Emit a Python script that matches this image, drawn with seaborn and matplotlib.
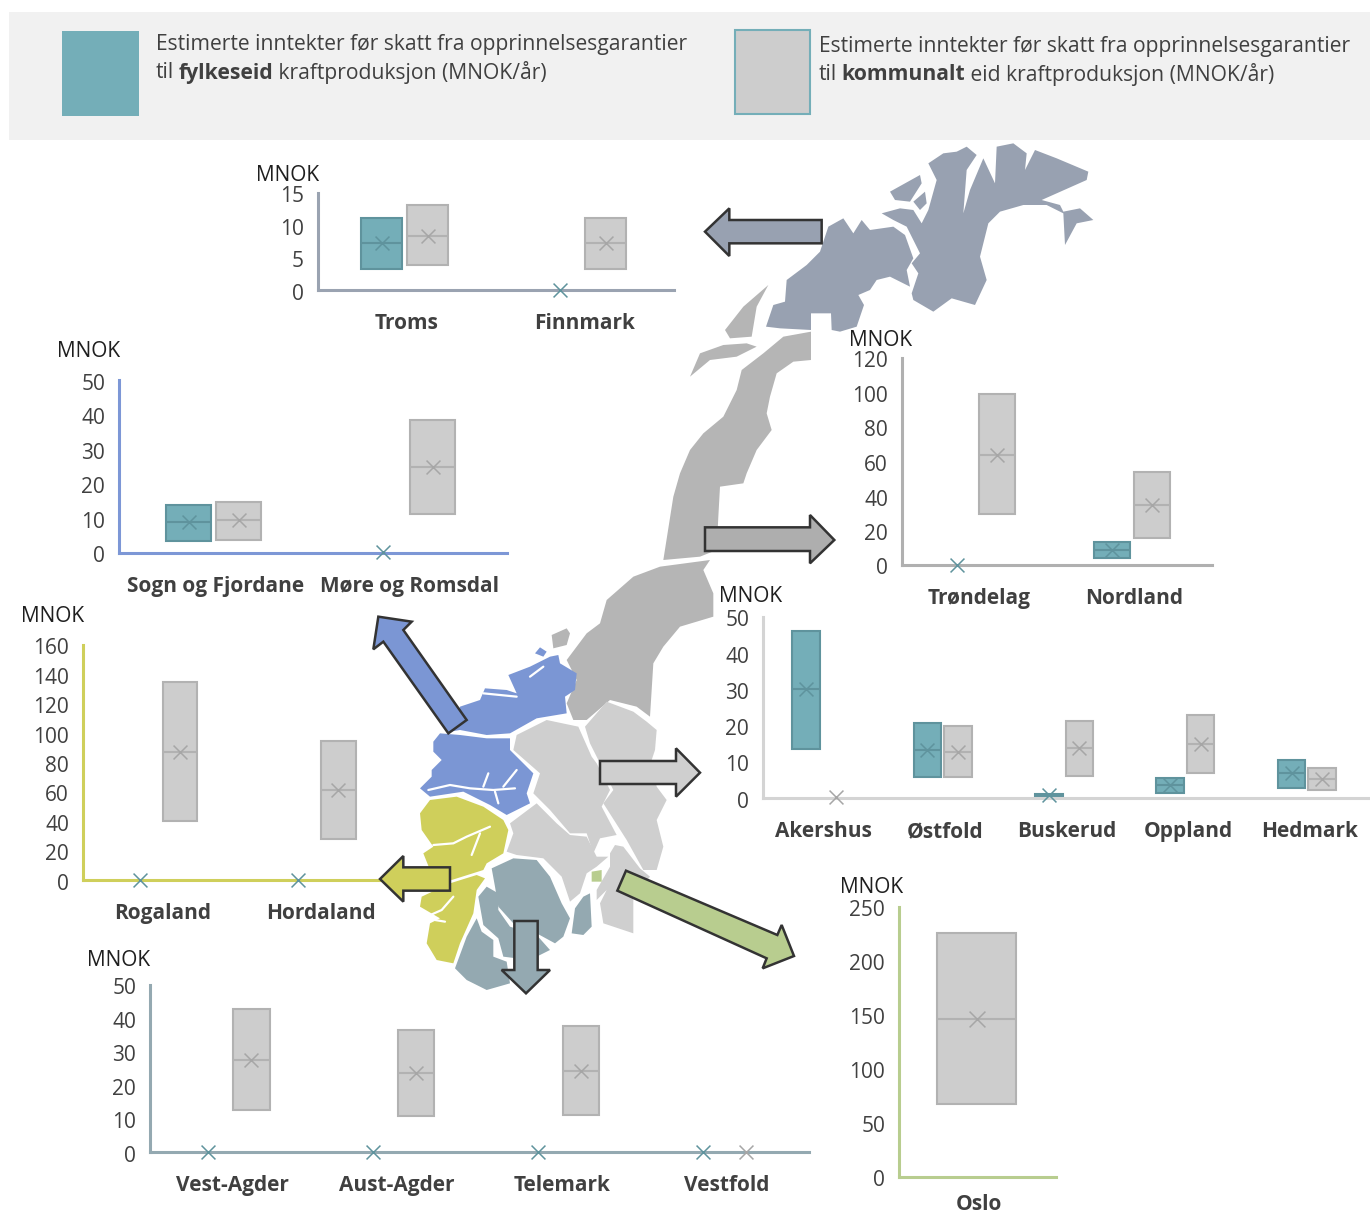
import numpy as np
import pandas as pd
import seaborn as sns
import matplotlib
matplotlib.use("Agg")
import matplotlib.pyplot as plt
from matplotlib.patches import Polygon, Rectangle
from matplotlib.transforms import ScaledTranslation

sns.set_theme(style="white")
plt.rcParams['font.family'] = ['Open Sans', 'DejaVu Sans']

W, H = 1370, 1216
TEAL, GREY = "#74aeb8", "#cdcdcd"
TEAL_LINE, GREY_LINE = "#5f939d", "#b2b2b2"
SERIES = ["fylkeseid", "kommunalt"]
TXT = "#404040"
N = np.nan

# ---------- data: (low, median, high, mean) per category ----------
troms_cats = ["Troms", "Finnmark"]
troms_f_low, troms_f_med, troms_f_high, troms_f_mean = [3.2, N], [7.3, N], [11.1, N], [7.3, 0.0]
troms_k_low, troms_k_med, troms_k_high, troms_k_mean = [3.9, 3.2], [8.3, 7.3], [13.1, 11.1], [8.3, 7.3]
troms_ticks = [0, 5, 10, 15]

sogn_cats = ["Sogn og Fjordane", "Møre og Romsdal"]
sogn_f_low, sogn_f_med, sogn_f_high, sogn_f_mean = [3.5, N], [9.0, N], [13.9, N], [9.0, 0.4]
sogn_k_low, sogn_k_med, sogn_k_high, sogn_k_mean = [3.8, 11.3], [9.5, 24.9], [14.7, 38.4], [9.5, 24.9]
sogn_ticks = [0, 10, 20, 30, 40, 50]

trond_cats = ["Trøndelag", "Nordland"]
trond_f_low, trond_f_med, trond_f_high, trond_f_mean = [N, 4.0], [N, 8.7], [N, 13.3], [0.0, 8.7]
trond_k_low, trond_k_med, trond_k_high, trond_k_mean = [29.6, 15.7], [64.0, 34.8], [99.0, 54.0], [64.0, 34.8]
trond_ticks = [0, 20, 40, 60, 80, 100, 120]

east_cats = ["Akershus", "Østfold", "Buskerud", "Oppland", "Hedmark"]
east_f_low, east_f_med, east_f_high, east_f_mean = [13.5, 5.8, 0.1, 1.5, 2.8], [30.0, 13.3, 0.6, 3.5, 6.9], [46.0, 20.7, 1.1, 5.5, 10.4], [30.0, 13.3, 0.9, 3.5, 6.9]
east_k_low, east_k_med, east_k_high, east_k_mean = [N, 5.8, 6.0, 6.9, 2.2], [N, 12.8, 13.8, 15.0, 5.3], [N, 19.9, 21.2, 23.0, 8.3], [0.3, 12.8, 13.8, 15.0, 5.3]
east_ticks = [0, 10, 20, 30, 40, 50]

west_cats = ["Rogaland", "Hordaland"]
west_f_low, west_f_med, west_f_high, west_f_mean = [N, N], [N, N], [N, N], [0.0, 0.0]
west_k_low, west_k_med, west_k_high, west_k_mean = [40.0, 28.0], [87.0, 61.2], [134.7, 94.6], [87.0, 61.2]
west_ticks = [0, 20, 40, 60, 80, 100, 120, 140, 160]

south_cats = ["Vest-Agder", "Aust-Agder", "Telemark", "Vestfold"]
south_f_low, south_f_med, south_f_high, south_f_mean = [N, N, N, N], [N, N, N, N], [N, N, N, N], [0.0, 0.0, 0.0, 0.0]
south_k_low, south_k_med, south_k_high, south_k_mean = [12.6, 10.8, 11.0, N], [27.5, 23.7, 24.3, N], [42.8, 36.5, 37.7, N], [27.5, 23.7, 24.3, 0.0]
south_ticks = [0, 10, 20, 30, 40, 50]

oslo_cats = ["Oslo"]
oslo_k_low, oslo_k_med, oslo_k_high, oslo_k_mean = [67.6], [146.0], [226.0], [146.0]
oslo_ticks = [0, 50, 100, 150, 200, 250]

fig = plt.figure(figsize=(W / 100, H / 100), dpi=100, facecolor="white")


def overlay(z):
    a = fig.add_axes([0, 0, 1, 1], zorder=z)
    a.set_xlim(0, W)
    a.set_ylim(H, 0)
    a.axis("off")
    a.patch.set_alpha(0)
    return a


back = overlay(0)
front = overlay(5)


def tidy(cats, low, med, high, name):
    rows = []
    for c, l, m, h in zip(cats, low, med, high):
        # five points: the quartiles of this list are exactly low / median / high
        for v in (l, l, m, h, h):
            rows.append((c, name, v))
    return rows


def panel(cats, f, k, ticks, x0, x1, y0, yt, color, sep, boxw, mnok, shift_px=2.5, xpad=16.5):
    ax = fig.add_axes([x0 / W, 1 - y0 / H, (x1 - x0) / W, (y0 - yt) / H], zorder=2)
    ax.patch.set_alpha(0)
    catw = (x1 - x0) / len(cats) if len(cats) > 1 else 158.0
    rows = tidy(cats, *k[:3], SERIES[1])
    if f is not None:
        rows += tidy(cats, *f[:3], SERIES[0])
    df = pd.DataFrame(rows, columns=["cat", "serie", "val"]).dropna()
    opts = dict(data=df, x="cat", y="val", hue="serie", order=cats, hue_order=SERIES,
                palette=[TEAL, GREY], whis=(0, 100), showcaps=False, showfliers=False,
                saturation=1, linewidth=1.5, legend=False, ax=ax)
    boxw = boxw - 1.5
    if f is not None:
        sns.boxplot(width=2 * sep / catw, gap=1 - boxw / sep, dodge=True, **opts)
    else:
        sns.boxplot(width=boxw / catw, dodge=False, **opts)
    for cont in ax.containers:
        is_teal = matplotlib.colors.to_hex(cont.boxes[0].get_facecolor()) == TEAL
        lc = TEAL_LINE if is_teal else GREY_LINE
        for b in cont.boxes:
            b.set_edgecolor(lc)
        for ln in list(cont.medians) + list(cont.whiskers):
            ln.set_color(lc)
    idx = np.arange(len(cats), dtype=float)
    if f is not None:
        sns.scatterplot(x=idx - sep / 2 / catw, y=f[3], marker="x", s=100, color=TEAL_LINE,
                        linewidth=1.1, clip_on=False, legend=False, ax=ax, zorder=6)
        sns.scatterplot(x=idx + sep / 2 / catw, y=k[3], marker="x", s=100, color="#a6a6a6",
                        linewidth=1.1, clip_on=False, legend=False, ax=ax, zorder=6)
    else:
        sns.scatterplot(x=idx, y=k[3], marker="x", s=130, color="#a6a6a6",
                        linewidth=1.1, clip_on=False, legend=False, ax=ax, zorder=6)
    s = shift_px / catw
    if len(cats) > 1:
        ax.set_xlim(-0.5 + s, len(cats) - 0.5 + s)
    else:
        ax.set_xlim(-(80 / catw) + s, ((x1 - x0) - 80) / catw + s)
    ax.set_ylim(0, ticks[-1])
    ax.set_xticks(idx + s)
    ax.set_xticklabels(cats, fontsize=15, fontweight="bold", color=TXT)
    ax.set_yticks(ticks)
    ax.set_yticklabels([str(t) for t in ticks], fontsize=15, color=TXT)
    ax.tick_params(axis="x", length=0, pad=xpad)
    ax.tick_params(axis="y", length=0, pad=10)
    down = ScaledTranslation(0, -1.5 / 100, fig.dpi_scale_trans)
    for lab in ax.get_yticklabels():
        lab.set_transform(lab.get_transform() + down)
    ax.set_xlabel("")
    ax.set_ylabel("")
    for sp in ("top", "right"):
        ax.spines[sp].set_visible(False)
    for sp in ("left", "bottom"):
        ax.spines[sp].set_color(color)
        ax.spines[sp].set_linewidth(2.2)
    front.text(mnok[0], mnok[1] + 2.5, "MNOK", fontsize=15, color="#1f1f1f", ha="center", va="center")
    return ax


# ---------- map outline, traced as decoration ----------
def z1(pts):
    return [(680 + x / 3, 130 + y / 3) for x, y in pts]


def z2(pts):
    return [(370 + x / 3, 560 + y / 3) for x, y in pts]


NORTH, NORD, BLUE, YEL, SLATE, LIGHT, GREEN = "#98a1b1", "#b5b5b5", "#7b96d4", "#cfcf5b", "#94a9b1", "#cfcfcf", "#b8cd8f"
shapes = [
    (NORTH, z1([(258,590),(280,525),(315,515),(320,450),(380,405),(420,365),(445,290),(490,265),(520,310),(545,270),(570,300),(640,290),(675,315),(700,385),(680,420),(690,470),(630,440),(590,450),(570,480),(535,495),(552,525),(530,590),(480,605),(455,600),(453,550),(393,550),(393,600),(300,595)])),
    (NORTH, z1([(605,250),(660,235),(700,240),(725,280),(745,240),(770,150),(745,100),(790,70),(830,65),(860,50),(890,75),(860,120),(850,250),(870,180),(910,85),(945,160),(950,50),(1000,40),(1040,70),(1035,120),(1065,60),(1130,85),(1225,125),(1220,150),(1130,190),(1085,210),(1140,225),(1150,245),(1200,235),(1240,270),(1190,280),(1155,345),(1150,250),(1100,225),(1030,225),(960,245),(925,280),(900,380),(920,450),(885,525),(815,505),(760,545),(700,510),(695,490),(715,430),(695,400),(720,370),(680,290),(640,270)])),
    (NORTH, z1([(630,185),(720,135),(725,160),(690,215),(645,210)])),
    (NORTH, z1([(700,215),(735,185),(740,220),(720,240)])),
    (NORD, z1([(135,600),(190,530),(265,465),(230,530),(215,620),(150,625)])),
    (NORD, z1([(30,740),(60,670),(130,645),(200,640),(230,650),(170,680),(90,690)])),
    (NORD, z1([(170,780),(185,720),(250,670),(310,620),(393,605),(393,690),(340,695),(290,730),(270,800),(260,850),(275,900),(230,960),(200,1030),(190,1060),(120,1070),(115,1160),(110,1260),(60,1280),(-50,1290),(-20,1100),(0,1030),(30,960),(70,910),(130,860),(160,800)])),
    (NORD, z2([(590,300),(620,260),(650,220),(690,190),(710,120),(790,50),(870,20),(1020,0),(1000,30),(1030,100),(1030,170),(930,200),(880,260),(850,310),(840,470),(800,440),(720,420),(650,480),(610,480),(590,430),(620,360)])),
    (NORD, z2([(545,225),(590,205),(600,220),(590,255),(550,265)])),
    (BLUE, z2([(240,515),(270,440),(330,420),(345,385),(410,390),(440,400),(415,345),(480,320),(540,290),(565,285),(570,310),(620,340),(615,390),(585,410),(590,460),(500,475),(420,520),(350,525),(270,510)])),
    (BLUE, z2([(495,280),(510,262),(530,275),(520,290)])),
    (BLUE, z2([(190,545),(210,520),(270,525),(350,535),(420,535),(420,570),(490,640),(470,700),(480,730),(410,765),(360,735),(280,695),(180,710),(150,685),(185,650),(185,630),(215,600),(190,575)])),
    (YEL, z2([(150,760),(180,720),(260,710),(340,740),(400,780),(415,810),(400,880),(350,910),(340,930),(245,960),(180,930),(160,880),(190,860),(155,810)])),
    (YEL, z2([(240,970),(320,945),(345,955),(320,990),(310,1060),(270,1150),(250,1210),(200,1200),(170,1150),(180,1090),(210,1075),(150,1040),(155,1010)])),
    (SLATE, z2([(365,925),(430,895),(500,900),(540,950),(575,1030),(600,1075),(580,1130),(555,1150),(500,1120),(430,1090),(385,1040),(375,980)])),
    (SLATE, z2([(325,1010),(350,980),(385,1000),(385,1050),(420,1100),(500,1125),(540,1170),(480,1200),(400,1190),(385,1135),(340,1095)])),
    (SLATE, z2([(320,1075),(335,1115),(370,1140),(370,1190),(410,1205),(420,1270),(350,1290),(290,1260),(255,1225),(290,1130)])),
    (SLATE, z2([(640,1010),(660,1000),(665,1100),(640,1125),(605,1120),(615,1045)])),
    (LIGHT, z2([(420,790),(500,730),(560,790),(600,825),(650,830),(680,890),(715,890),(680,920),(650,940),(630,1000),(600,1025),(575,950),(520,895),(440,885),(410,875),(430,820)])),
    (LIGHT, z2([(440,525),(530,480),(625,500),(665,590),(680,610),(720,690),(695,740),(740,825),(690,835),(670,880),(650,820),(600,820),(540,750),(490,700),(510,640),(430,570)])),
    (LIGHT, z2([(645,500),(710,425),(790,455),(830,485),(860,510),(855,570),(845,600),(860,680),(890,720),(860,780),(880,860),(860,930),(820,930),(770,840),(700,730),(730,690),(680,590),(660,550)])),
    (LIGHT, z2([(720,880),(735,855),(760,860),(810,925),(840,950),(790,1010),(790,1120),(700,1090),(690,1030),(710,990),(680,1020),(680,990),(720,920)])),
    (GREEN, z2([(665,935),(695,930),(695,965),(665,965)])),
]
for col, pts in shapes:
    back.add_patch(Polygon(pts, closed=True, facecolor=col, edgecolor="none"))

# fjords: thin white cuts in the western counties
fjords = [
    z2([(175,690),(240,675),(300,685),(370,690),(435,685)]),
    z2([(340,680),(355,640)]), z2([(400,680),(440,630)]), z2([(375,695),(385,730)]),
    z2([(190,855),(250,850),(290,830),(360,800)]), z2([(305,885),(330,820)]),
    z2([(170,1070),(215,1050),(250,1010)]), z2([(195,1080),(225,1085)]),
    z2([(480,350),(520,320)]), z2([(340,400),(440,410)]),
]
for pts in fjords:
    xs, ys = zip(*pts)
    back.plot(xs, ys, color="white", lw=1.6, solid_capstyle="round")

arrows = [
    (NORTH, z1([(425,270),(148,270),(148,235),(75,305),(148,378),(148,340),(425,340)])),
    ("#aeaeae", z1([(75,1192),(390,1192),(390,1155),(463,1230),(390,1300),(390,1263),(75,1263)])),
    (BLUE, z2([(290,480),(100,210),(125,185),(25,170),(10,268),(40,245),(235,520)])),
    (LIGHT, z2([(690,603),(918,603),(918,565),(990,638),(918,710),(918,672),(690,672)])),
    (YEL, z2([(240,922),(100,922),(100,888),(30,957),(100,1025),(100,992),(240,992)])),
    (SLATE, z2([(433,1083),(503,1083),(503,1230),(540,1230),(468,1300),(395,1230),(433,1230)])),
    (GREEN, z2([(768,932),(1222,1125),(1235,1095),(1272,1188),(1178,1225),(1190,1195),(742,992)])),
]
for col, pts in arrows:
    front.add_patch(Polygon(pts, closed=True, facecolor=col, edgecolor="#333333", linewidth=1.8, joinstyle="miter"))

# ---------- panels ----------
panel(troms_cats, (troms_f_low, troms_f_med, troms_f_high, troms_f_mean),
      (troms_k_low, troms_k_med, troms_k_high, troms_k_mean), troms_ticks,
      318, 674, 290, 193, "#9aa3b1", 46, 42, (288, 173))
panel(sogn_cats, (sogn_f_low, sogn_f_med, sogn_f_high, sogn_f_mean),
      (sogn_k_low, sogn_k_med, sogn_k_high, sogn_k_mean), sogn_ticks,
      119, 507, 553, 380, "#7d97d6", 50, 46, (89, 349))
panel(trond_cats, (trond_f_low, trond_f_med, trond_f_high, trond_f_mean),
      (trond_k_low, trond_k_med, trond_k_high, trond_k_mean), trond_ticks,
      902, 1212, 565, 358, "#b0b0b0", 40, 37, (881, 338))
panel(east_cats, (east_f_low, east_f_med, east_f_high, east_f_mean),
      (east_k_low, east_k_med, east_k_high, east_k_mean), east_ticks,
      763, 1370, 798, 617, "#d4d4d4", 30.5, 29, (751, 594))
panel(west_cats, (west_f_low, west_f_med, west_f_high, west_f_mean),
      (west_k_low, west_k_med, west_k_high, west_k_mean), west_ticks,
      83, 400, 880, 645, "#cfcf5b", 40, 36, (53, 614))
panel(south_cats, (south_f_low, south_f_med, south_f_high, south_f_mean),
      (south_k_low, south_k_med, south_k_high, south_k_mean), south_ticks,
      150, 809, 1152, 985, "#94a9b1", 43, 38, (119, 958))
panel(oslo_cats, None, (oslo_k_low, oslo_k_med, oslo_k_high, oslo_k_mean), oslo_ticks,
      899, 1056, 1177, 907, "#b8cd8f", 0, 81, (872, 885), xpad=12)

# ---------- header ----------
back.add_patch(Rectangle((9, 12), W - 9, 128, facecolor="#f1f1f1", edgecolor="none"))
back.add_patch(Rectangle((62, 31), 77, 85, facecolor=TEAL, edgecolor="none"))
back.add_patch(Rectangle((735, 30), 75, 84, facecolor=GREY, edgecolor=TEAL, linewidth=1.5))

LINE1 = "Estimerte inntekter før skatt fra opprinnelsesgarantier"
HEAD = 15.2


def header(x, y1, y2, bold, tail):
    back.text(x, y1 + 1.5, LINE1, fontsize=HEAD, color=TXT, va="center", ha="left")
    fig.canvas.draw()
    r = fig.canvas.get_renderer()
    cx = x
    for txt, w, gap in (("til", "normal", 4), (bold, "bold", 0), (tail, "normal", 0)):
        t = back.text(cx, y2 + 1, txt, fontsize=HEAD, color=TXT, fontweight=w, va="center", ha="left")
        cx = t.get_window_extent(r).x1 + gap


header(156, 43, 72, "fylkeseid", " kraftproduksjon (MNOK/år)")
header(819, 45, 74, "kommunalt", " eid kraftproduksjon (MNOK/år)")

fig.savefig("out.png", dpi=100)
